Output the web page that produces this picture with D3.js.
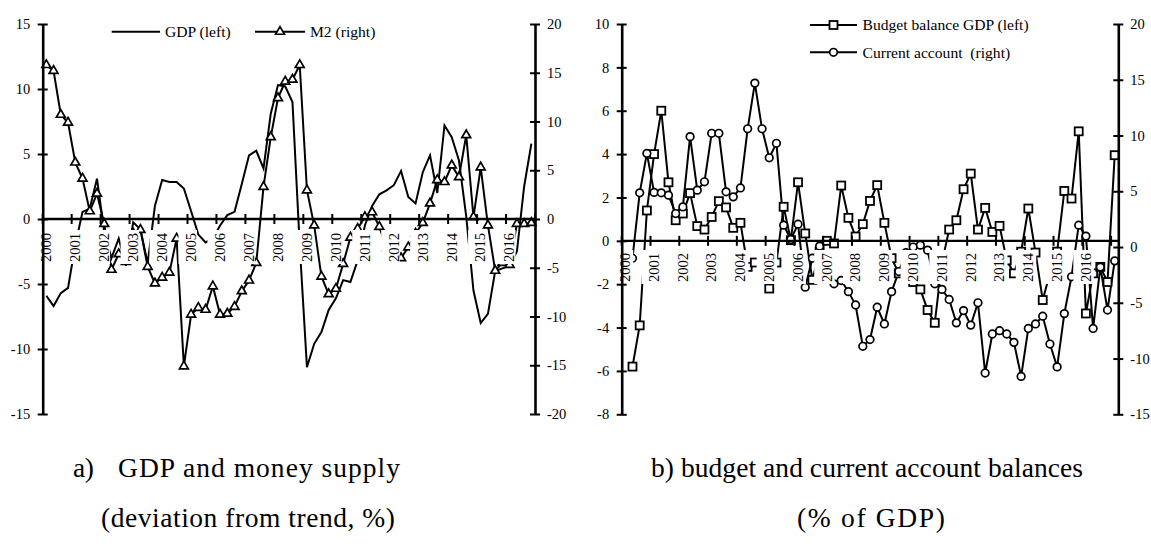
<!DOCTYPE html>
<html><head><meta charset="utf-8">
<script src="https://cdnjs.cloudflare.com/ajax/libs/d3/7.8.5/d3.min.js"></script>
<style>
body{margin:0;background:#fff}
svg{display:block}
text{font-family:"Liberation Serif","Times New Roman",serif;fill:#000}
</style>
</head><body>
<svg id="chart" width="1151" height="548"></svg>
<script>
// ---------------- data ----------------
const yearLabels = ["2000","2001","2002","2003","2004","2005","2006","2007","2008",
  "2009","2010","2011","2012","2013","2014","2015","2016"];
const quarterNames = ["Q1","Q2","Q3","Q4"];
const categoriesA = yearLabels.flatMap(y => quarterNames.map(q => y + q));      // 2000Q1..2016Q4
const categoriesB = categoriesA.concat(["2017Q1"]);                             // 2000Q1..2017Q1

// panel a: GDP (left axis), M2 (right axis), deviation from trend %
const gdp = [-5.9,-6.7,-5.7,-5.3,-2.0,0.55,0.8,3.1,-1.0,-3.0,-1.5,-3.6,-0.25,-0.8,-3.4,1.0,
  3.0,2.85,2.85,2.35,0.6,-1.2,-1.8,-1.5,-0.5,0.3,0.55,2.7,4.9,5.25,3.9,8.1,
  10.3,10.2,9.0,-2.0,-11.4,-9.6,-8.7,-7.0,-6.1,-4.7,-4.85,-3.2,-0.5,1.0,1.9,2.2,
  2.6,3.7,1.7,1.2,3.6,4.9,2.0,7.2,6.3,4.5,0.2,-5.5,-8.0,-7.3,-4.0,-3.8,-3.6,-2.5,2.5,5.8];
const m2 = [15.8,15.2,10.7,9.9,5.8,4.15,0.8,2.6,-0.5,-5.2,-3.6,-4.4,-1.5,-1.1,-4.9,-6.6,
  -6.0,-5.5,-2.0,-15.1,-9.8,-9.1,-9.3,-6.9,-9.8,-9.7,-9.0,-7.4,-6.3,-4.5,3.3,8.4,
  12.4,14.1,14.3,15.8,2.95,-0.65,-5.9,-7.7,-7.15,-4.6,-1.9,-1.0,0.2,0.7,-0.8,-3.0,
  -4.0,-4.0,-2.9,-1.5,-0.4,1.6,4.0,3.8,5.5,4.3,8.6,0.2,5.3,-0.65,-5.3,-4.5,-4.7,-0.5,-0.5,-0.4];

// panel b: budget balance (left axis), current account (right axis), % of GDP
const budget = [null,-5.8,-3.9,1.4,4.0,6.0,2.7,0.95,1.26,2.2,0.68,0.52,1.1,1.83,1.54,0.6,
  0.83,-1.2,-1.0,-1.5,-2.2,-1.0,1.57,0.03,2.7,0.34,-1.8,-0.5,0.0,-0.12,2.55,1.06,
  0.2,0.77,1.84,2.57,0.83,-0.8,-1.5,-1.6,-1.9,-2.24,-3.19,-3.78,-1.0,0.52,0.95,2.38,
  3.1,0.52,1.52,0.41,0.69,-0.9,-1.5,-0.5,1.49,-0.54,-2.73,-1.5,-0.5,2.3,1.95,5.05,
  -3.35,-1.5,-1.2,-1.9,3.95];
const currentAccount = [null,-1.0,4.86,8.4,4.9,4.86,4.65,3.0,3.6,9.9,5.1,5.85,10.2,10.2,4.95,4.5,
  5.3,10.6,14.7,10.6,8.0,9.3,1.96,0.68,2.05,-3.6,-1.0,0.08,-2.5,-3.3,-3.0,-4.0,
  -5.2,-8.9,-8.3,-5.4,-6.9,-4.0,-2.2,-0.5,0.0,0.17,-0.28,-3.3,-3.8,-4.7,-6.8,-5.7,
  -7.0,-5.0,-11.3,-7.8,-7.5,-7.8,-8.55,-11.6,-7.3,-6.9,-6.2,-8.7,-10.75,-5.97,-2.67,1.96,
  0.98,-7.3,-1.8,-5.65,-1.24];

const ticksAL = [-15,-10,-5,0,5,10,15];
const ticksAR = [-20,-15,-10,-5,0,5,10,15,20];
const ticksBL = [-8,-6,-4,-2,0,2,4,6,8,10];
const ticksBR = [-15,-10,-5,0,5,10,15,20];

const legendA = ["GDP (left)", "M2 (right)"];
const legendB = ["Budget balance GDP (left)", "Current account  (right)"];
const captionA = ["a)", "GDP and money supply", "(deviation from trend, %)"];
const captionB = ["b) budget and current account balances", "(% of GDP)"];

// ---------------- drawing ----------------
const svg = d3.select("#chart");
const TICKFS = 14.5, LEGFS = 15.6;
const fmt = d => String(d);   // plain hyphen-minus like the original

function marker(g, type, x, y) {
  if (type === "tri") {
    g.append("path").attr("d", d3.symbol(d3.symbolTriangle, 34)())
      .attr("transform", `translate(${x},${y})`)
      .attr("fill", "#fff").attr("stroke", "#000").attr("stroke-width", 1.7);
  } else if (type === "sq") {
    g.append("rect").attr("x", x - 4).attr("y", y - 4).attr("width", 8).attr("height", 8)
      .attr("fill", "#fff").attr("stroke", "#000").attr("stroke-width", 1.8);
  } else if (type === "circ") {
    g.append("circle").attr("cx", x).attr("cy", y).attr("r", 3.8)
      .attr("fill", "#fff").attr("stroke", "#000").attr("stroke-width", 1.7);
  }
}

function panel(cfg) {
  const g = svg.append("g");
  const x = d3.scaleBand().domain(d3.range(cfg.cats.length)).range([cfg.x0, cfg.x1]).padding(0);
  const cx = i => x(i) + x.bandwidth() / 2;
  const yL = d3.scaleLinear().domain(cfg.domL).range([cfg.yBot, cfg.yTop]);
  const yR = d3.scaleLinear().domain(cfg.domR).range([cfg.yBot, cfg.yTop]);

  cfg.series.forEach(s => {
    const y = s.axis === "L" ? yL : yR;
    const line = d3.line().defined(d => d != null).x((d, i) => cx(i)).y(d => y(d));
    g.append("path").datum(s.values).attr("d", line)
      .attr("fill", "none").attr("stroke", "#000").attr("stroke-width", 2).attr("stroke-linejoin", "miter");
  });
  cfg.series.forEach(s => {
    if (!s.marker) return;
    const y = s.axis === "L" ? yL : yR;
    s.values.forEach((v, i) => { if (v != null) marker(g, s.marker, cx(i), y(v)); });
  });

  const y0 = yL(0);
  g.append("line").attr("x1", cfg.x0).attr("x2", cfg.x1).attr("y1", y0).attr("y2", y0)
    .attr("stroke", "#000").attr("stroke-width", 2.4);
  for (let k = 0; k * 4 <= cfg.cats.length; k++) {
    const tx = k * 4 < cfg.cats.length ? x(k * 4) : cfg.x1;
    g.append("line").attr("x1", tx).attr("x2", tx).attr("y1", y0 - 5).attr("y2", y0 + 5)
      .attr("stroke", "#000").attr("stroke-width", 2);
  }
  yearLabels.forEach((lab, k) => {
    const i = k * 4;
    const tx = x(i);
    g.append("rect").attr("x", tx - 9).attr("y", cfg.labTop).attr("width", cfg.boxW)
      .attr("height", cfg.labBot - cfg.labTop).attr("fill", "#fff");
    g.append("text").text(lab)
      .attr("transform", `translate(${cx(i) + 0.33 * TICKFS},${cfg.labBot - 2}) rotate(-90)`)
      .attr("font-size", TICKFS).attr("text-anchor", "start");
  });

  const axL = d3.axisLeft(yL).tickValues(cfg.ticksL).tickFormat(fmt).tickSize(5).tickSizeOuter(0).tickPadding(7.5);
  const gl = g.append("g").attr("transform", `translate(${cfg.x0},0)`).call(axL);
  const axR = d3.axisRight(yR).tickValues(cfg.ticksR).tickFormat(fmt).tickSize(5).tickSizeOuter(0).tickPadding(7);
  const gr = g.append("g").attr("transform", `translate(${cfg.x1},0)`).call(axR);
  [gl, gr].forEach((ga, j) => {
    ga.attr("font-family", null);
    ga.select(".domain").attr("stroke-width", 2.6);
    ga.selectAll(".tick line").attr("x1", j === 0 ? 5 : -5).attr("stroke-width", 2);
    ga.selectAll(".tick text").attr("font-size", TICKFS)
      .style("font-family", '"Liberation Serif","Times New Roman",serif');
  });
  return g;
}

panel({
  cats: categoriesA, x0: 42.7, x1: 535, yTop: 24, yBot: 414,
  domL: [-15, 15], domR: [-20, 20], ticksL: ticksAL, ticksR: ticksAR,
  labTop: 230, labBot: 264, boxW: 18.5,
  series: [
    { values: gdp, axis: "L", marker: null },
    { values: m2, axis: "R", marker: "tri" }
  ]
});
panel({
  cats: categoriesB, x0: 621.7, x1: 1118.3, yTop: 24, yBot: 414.3,
  domL: [-8, 10], domR: [-15, 20], ticksL: ticksBL, ticksR: ticksBR,
  labTop: 250, labBot: 284, boxW: 20.5,
  series: [
    { values: budget, axis: "L", marker: "sq" },
    { values: currentAccount, axis: "R", marker: "circ" }
  ]
});

function legendLine(x1, x2, y, mk, label, tx) {
  svg.append("line").attr("x1", x1).attr("x2", x2).attr("y1", y).attr("y2", y)
    .attr("stroke", "#000").attr("stroke-width", 2);
  if (mk) marker(svg, mk, (x1 + x2) / 2, y);
  svg.append("text").text(label).attr("x", tx).attr("y", y + 5.2)
    .attr("font-size", LEGFS).style("white-space", "pre");
}
legendLine(111.7, 160, 31.7, null, legendA[0], 165);
legendLine(255, 305, 31.7, "tri", legendA[1], 310);
legendLine(810, 857, 25, "sq", legendB[0], 862.5);
legendLine(810, 857, 52.3, "circ", legendB[1], 862.5);

const CAPFS = 27.5;
function caption(t, x, y, len) {
  svg.append("text").text(t).attr("x", x).attr("y", y).attr("font-size", CAPFS)
    .attr("textLength", len).attr("lengthAdjust", "spacing");
}
caption(captionA[0], 73, 477, 21);
caption(captionA[1], 118, 477, 282);
caption(captionA[2], 101, 527, 294);
caption(captionB[0], 651, 477, 432);
caption(captionB[1], 797, 527, 148);
</script>
</body></html>
